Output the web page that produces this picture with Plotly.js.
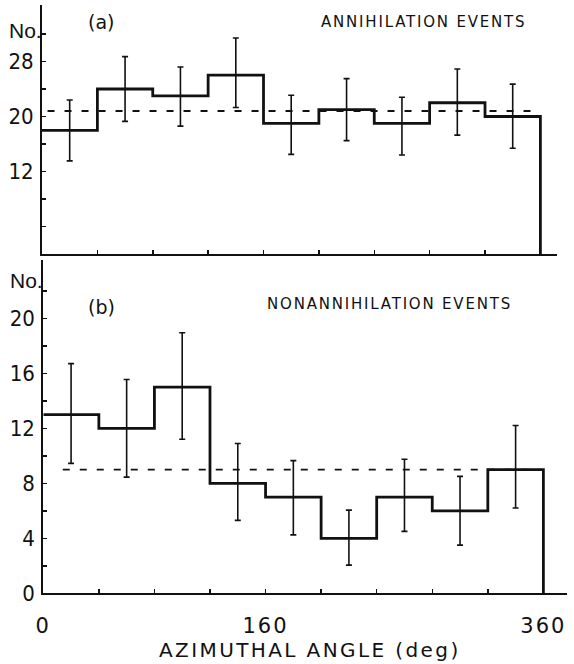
<!DOCTYPE html>
<html>
<head>
<meta charset="utf-8">
<script src="https://cdn.plot.ly/plotly-3.0.1.min.js"></script>
<style>
  html, body { margin: 0; padding: 0; background: #fff; }
  #chart { width: 574px; height: 664px; }
</style>
</head>
<body>
<div id="chart"></div>
<script>
// Azimuthal angle bin edges (deg)
const binEdges = [0, 40, 80, 120, 160, 200, 240, 280, 320, 360];

// (a) annihilation events: counts per bin and error bar extents
const countsA   = [18, 24, 23, 26, 19, 21, 19, 22, 20];
const errUpA    = [4.4, 4.7, 4.2, 5.4, 4.1, 4.5, 3.8, 4.9, 4.7];
const errDownA  = [4.45, 4.7, 4.4, 4.7, 4.5, 4.5, 4.6, 4.7, 4.6];
const meanA     = 20.8;
const meanSpanA = [4, 358];

// (b) nonannihilation events
const countsB   = [13, 12, 15, 8, 7, 4, 7, 6, 9];
const errUpB    = [3.7, 3.55, 3.95, 2.9, 2.65, 2.05, 2.75, 2.5, 3.2];
const errDownB  = [3.55, 3.55, 3.8, 2.7, 2.75, 1.95, 2.5, 2.5, 2.8];
const meanB     = 9;
const meanSpanB = [14, 358];

// Axis tick positions and labels
const yTicksA  = [4, 8, 12, 16, 20, 24, 28, 32];
const yLabelsA = ['', '', '12', '', '20', '', '28', ''];
const yTicksB  = [0, 2, 4, 6, 8, 10, 12, 14, 16, 18, 20, 22];
const yLabelsB = ['0', '', '4', '', '8', '', '12', '', '16', '', '20', ''];
const xLabeled = { 0: '0', 160: '160', 360: '360' };

const W = 574, H = 664;
const INK = '#111';
const px = v => v / W;
const py = v => 1 - v / H;

// step outline of a histogram, closed down to zero at the last edge
function stepXY(edges, counts) {
  const x = edges.slice(0, counts.length).concat([edges[counts.length], edges[counts.length]]);
  const y = counts.concat([counts[counts.length - 1], 0]);
  return { x, y };
}
const centers = binEdges.slice(0, -1).map((e, i) => (e + binEdges[i + 1]) / 2);

function panelTraces(counts, up, down, mean, span, xa, ya) {
  const s = stepXY(binEdges, counts);
  return [
    { x: span, y: [mean, mean], xaxis: xa, yaxis: ya, mode: 'lines', hoverinfo: 'skip',
      line: { color: INK, width: 1.8, dash: '7px,10px' } },
    { x: centers, y: counts, xaxis: xa, yaxis: ya, mode: 'markers',
      marker: { size: 1, color: INK },
      error_y: { type: 'data', symmetric: false, array: up, arrayminus: down,
                 color: INK, thickness: 1.6, width: 3 } },
    { x: s.x, y: s.y, xaxis: xa, yaxis: ya, mode: 'lines', line: { color: INK, width: 2.8, shape: 'hv' } }
  ];
}

const data = [
  ...panelTraces(countsA, errUpA, errDownA, meanA, meanSpanA, 'x', 'y'),
  ...panelTraces(countsB, errUpB, errDownB, meanB, meanSpanB, 'x2', 'y2')
];

const tickFontY = { family: '"Liberation Sans Narrow", "DejaVu Sans Condensed", "Liberation Sans", sans-serif', size: 22, color: INK };
const tickFontX = { family: '"DejaVu Sans", sans-serif', size: 21, color: INK };

const axisBase = {
  showline: true, linecolor: INK, linewidth: 2, showgrid: false, zeroline: false,
  ticks: 'inside', ticklen: 4, tickwidth: 1.5, tickcolor: INK, fixedrange: true
};

const layout = {
  width: W, height: H,
  margin: { l: 0, r: 0, t: 0, b: 0 },
  paper_bgcolor: '#fff', plot_bgcolor: 'rgba(0,0,0,0)',
  showlegend: false,
  xaxis: Object.assign({}, axisBase, {
    domain: [px(42), px(557)], range: [0, 372], anchor: 'y',
    tickmode: 'array', tickvals: binEdges.slice(1, -1), showticklabels: false
  }),
  yaxis: Object.assign({}, axisBase, {
    domain: [py(254.2), py(5)], range: [0, 36.2], anchor: 'x',
    tickmode: 'array', tickvals: yTicksA, ticktext: yLabelsA,
    tickfont: tickFontY, ticklabelstandoff: 2
  }),
  xaxis2: Object.assign({}, axisBase, {
    domain: [px(43.3), px(567)], range: [0, 377], anchor: 'y2',
    tickmode: 'array', tickvals: binEdges,
    ticktext: binEdges.map(v => xLabeled[v] || ''),
    tickfont: tickFontX, ticklabelstandoff: 12
  }),
  yaxis2: Object.assign({}, axisBase, {
    domain: [py(593.3), py(260)], range: [0, 24.24], anchor: 'x2',
    tickmode: 'array', tickvals: yTicksB, ticktext: yLabelsB,
    tickfont: tickFontY, ticklabelstandoff: 2
  }),
  annotations: [
    { text: '(a)', xref: 'paper', yref: 'paper', x: px(101), y: py(22), xanchor: 'center', yanchor: 'middle',
      showarrow: false, font: { family: '"DejaVu Sans", sans-serif', size: 19, color: INK } },
    { text: 'ANNIHILATION EVENTS', xref: 'paper', yref: 'paper', x: px(319), y: py(22), xanchor: 'left', yanchor: 'middle',
      align: 'left', showarrow: false, font: { family: '"DejaVu Sans", sans-serif', size: 15, color: INK } },
    { text: 'No.', xref: 'paper', yref: 'paper', x: px(7), y: py(30), xanchor: 'left', yanchor: 'middle',
      align: 'left', showarrow: false, font: { family: '"Liberation Sans", sans-serif', size: 21, color: INK } },
    { text: '(b)', xref: 'paper', yref: 'paper', x: px(101), y: py(307), xanchor: 'center', yanchor: 'middle',
      showarrow: false, font: { family: '"DejaVu Sans", sans-serif', size: 19, color: INK } },
    { text: 'NONANNIHILATION EVENTS', xref: 'paper', yref: 'paper', x: px(265), y: py(304), xanchor: 'left', yanchor: 'middle',
      align: 'left', showarrow: false, font: { family: '"DejaVu Sans", sans-serif', size: 15, color: INK } },
    { text: 'No.', xref: 'paper', yref: 'paper', x: px(8), y: py(281), xanchor: 'left', yanchor: 'middle',
      align: 'left', showarrow: false, font: { family: '"Liberation Sans", sans-serif', size: 21, color: INK } },
    { text: 'AZIMUTHAL ANGLE (deg)', xref: 'paper', yref: 'paper', x: px(157), y: py(650), xanchor: 'left', yanchor: 'middle',
      align: 'left', showarrow: false, font: { family: '"DejaVu Sans", sans-serif', size: 20, color: INK } }
  ]
};

// widen the lettering of the captions and the angle labels
const spacing = { 1: '1.8px', 4: '1.8px', 6: '2.4px' };
Plotly.newPlot('chart', data, layout, { staticPlot: true, displayModeBar: false }).then(gd => {
  gd.querySelectorAll('g.annotation').forEach(g => {
    const i = g.getAttribute('data-index');
    if (spacing[i]) g.querySelectorAll('text').forEach(t => { t.style.letterSpacing = spacing[i]; });
  });
  gd.querySelectorAll('g.x2tick text').forEach(t => { t.style.letterSpacing = '2px'; });
});
</script>
</body>
</html>
